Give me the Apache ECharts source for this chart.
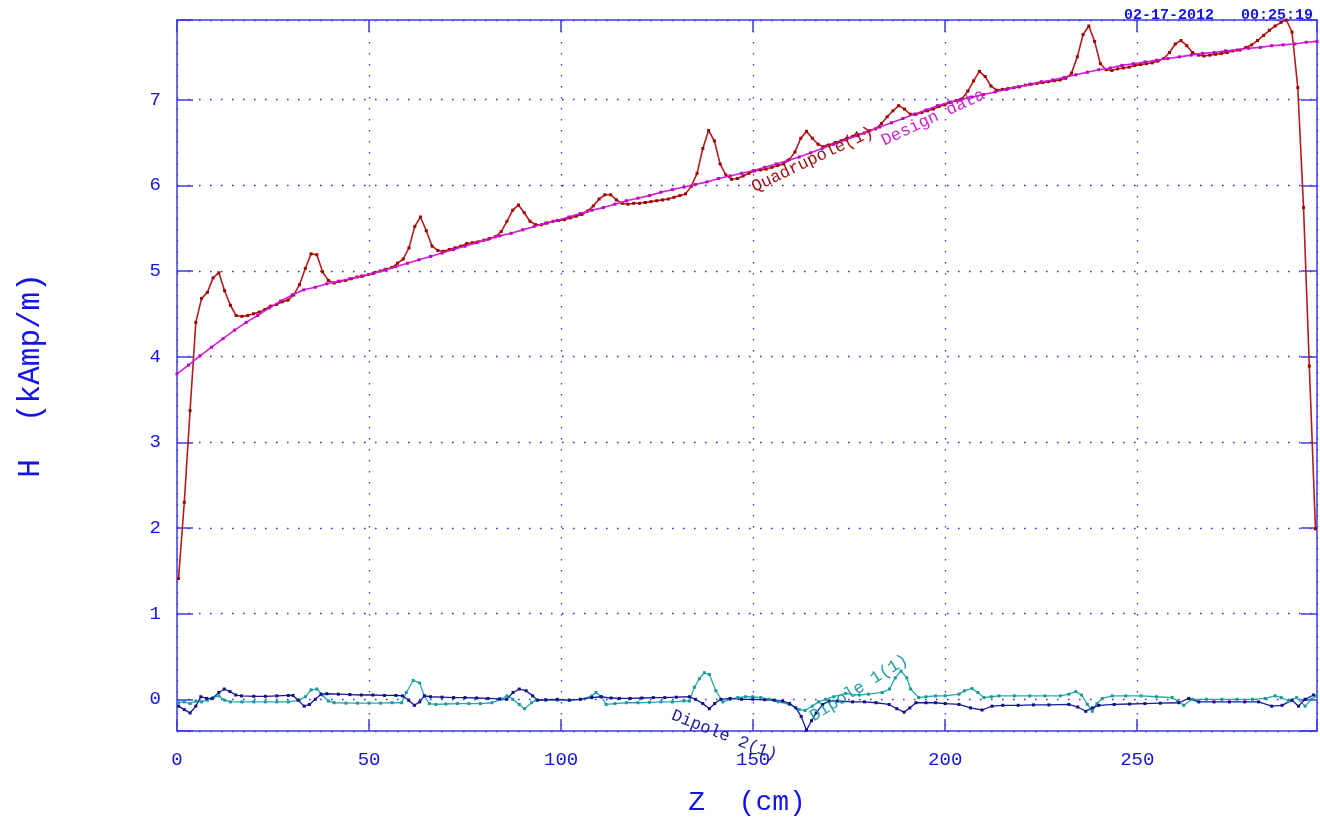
<!DOCTYPE html>
<html><head><meta charset="utf-8">
<script src="https://cdn.jsdelivr.net/npm/echarts@6/dist/echarts.min.js"></script>
<style>html,body{margin:0;padding:0;background:#fff}#c{width:1320px;height:824px}</style>
</head><body><div id="c"></div>
<script>
// ---- data (Z in cm, H in kAmp/m) ----
const quadZ = [0.4,1.9,3.4,4.9,6.4,7.9,9.4,10.9,12.4,13.9,15.4,16.9,18.4,19.9,21.4,22.9,24.4,25.9,27.4,28.9,30.4,31.9,33.4,34.9,36.4,37.9,39.4,40.9,42.4,43.9,45.4,46.9,48.4,49.9,51.4,52.9,54.4,55.9,57.4,58.9,60.4,61.9,63.4,64.9,66.4,67.9,69.4,70.9,72.4,73.9,75.4,76.9,78.4,79.9,81.4,82.9,84.4,85.9,87.4,88.9,90.4,91.9,93.4,94.9,96.4,97.9,99.4,100.9,102.4,103.9,105.4,106.9,108.4,109.9,111.4,112.9,114.4,115.9,117.4,118.9,120.4,121.9,123.4,124.9,126.4,127.9,129.4,130.9,132.4,133.9,135.4,136.9,138.4,139.9,141.4,142.9,144.4,145.9,147.4,148.9,150.4,151.9,153.4,154.9,156.4,157.9,159.4,160.9,162.4,163.9,165.4,166.9,168.4,169.9,171.4,172.9,174.4,175.9,177.4,178.9,180.4,181.9,183.4,184.9,186.4,187.9,189.4,190.9,192.4,193.9,195.4,196.9,198.4,199.9,201.4,202.9,204.4,205.9,207.4,208.9,210.4,211.9,213.4,214.9,216.4,217.9,219.4,220.9,222.4,223.9,225.4,226.9,228.4,229.9,231.4,232.9,234.4,235.9,237.4,238.9,240.4,241.9,243.4,244.9,246.4,247.9,249.4,250.9,252.4,253.9,255.4,256.9,258.4,259.9,261.4,262.9,264.4,265.9,267.4,268.9,270.4,271.9,273.4,274.9,276.8,278.3,279.8,281.3,282.9,284.4,285.9,287.4,288.8,290.3,291.8,293.3,294.8,296.4];
const quadH = [1.41,2.30,3.37,4.40,4.68,4.75,4.92,4.98,4.77,4.60,4.48,4.47,4.48,4.50,4.52,4.55,4.59,4.61,4.64,4.66,4.72,4.84,5.03,5.20,5.19,4.99,4.89,4.86,4.88,4.89,4.91,4.93,4.94,4.96,4.98,5.00,5.02,5.04,5.09,5.14,5.27,5.52,5.63,5.47,5.29,5.24,5.23,5.25,5.27,5.29,5.32,5.33,5.34,5.36,5.38,5.40,5.46,5.58,5.71,5.77,5.68,5.58,5.54,5.54,5.56,5.58,5.59,5.60,5.62,5.64,5.66,5.70,5.76,5.84,5.89,5.89,5.83,5.79,5.78,5.79,5.79,5.80,5.81,5.82,5.83,5.84,5.86,5.88,5.90,5.99,6.14,6.43,6.64,6.52,6.25,6.12,6.07,6.08,6.11,6.14,6.17,6.18,6.19,6.21,6.23,6.25,6.30,6.39,6.55,6.63,6.55,6.48,6.45,6.47,6.50,6.52,6.55,6.57,6.59,6.61,6.64,6.66,6.72,6.80,6.87,6.93,6.89,6.83,6.83,6.85,6.87,6.89,6.92,6.94,6.97,6.99,7.01,7.10,7.22,7.33,7.27,7.16,7.11,7.12,7.13,7.14,7.15,7.17,7.18,7.19,7.20,7.21,7.22,7.23,7.25,7.31,7.50,7.76,7.86,7.68,7.42,7.35,7.34,7.36,7.37,7.38,7.40,7.41,7.42,7.43,7.45,7.48,7.55,7.65,7.69,7.63,7.55,7.52,7.51,7.52,7.53,7.54,7.55,7.57,7.58,7.61,7.64,7.69,7.75,7.81,7.86,7.90,7.93,7.79,7.14,5.74,3.89,1.99];

const designZ = [0,3,6,9,12,15,18,21,24,27,30,33,36,39,42,45,48,51,54,57,60,63,66,69,72,75,78,81,84,87,90,93,96,99,102,105,108,111,114,117,120,123,126,129,132,135,138,141,144,147,150,153,156,159,162,165,168,171,174,177,180,183,186,189,192,195,198,201,204,207,210,213,216,219,222,225,228,231,234,237,240,243,246,249,252,255,258,261,264,267,270,273,276,279,282,285,288,291,294,296.8];
const designH = [3.80,3.90,4.01,4.11,4.21,4.31,4.40,4.48,4.57,4.65,4.72,4.78,4.81,4.85,4.88,4.91,4.94,4.97,5.01,5.05,5.09,5.13,5.17,5.21,5.25,5.29,5.33,5.37,5.41,5.44,5.48,5.52,5.56,5.59,5.63,5.67,5.71,5.74,5.78,5.82,5.85,5.88,5.92,5.95,5.98,6.01,6.04,6.08,6.11,6.14,6.17,6.21,6.25,6.29,6.33,6.38,6.43,6.48,6.53,6.58,6.63,6.68,6.73,6.78,6.83,6.88,6.93,6.97,7.00,7.03,7.06,7.09,7.12,7.15,7.18,7.21,7.23,7.26,7.29,7.32,7.35,7.37,7.40,7.42,7.44,7.46,7.48,7.50,7.52,7.54,7.55,7.57,7.58,7.60,7.61,7.63,7.64,7.65,7.67,7.68];

const dip1Z = [0.4,1.9,3.4,4.9,6.4,7.9,9.4,10.9,12.4,13.9,16.9,20,23,26,29,31.9,33.4,34.9,36.4,37.9,39.4,40.9,44,47,50,53,56,58.5,59.7,61.5,63.2,64.4,65.7,67.4,70,73,76,79,82,84.4,85.9,87.4,89.1,90.5,92.3,93.5,96,99,102,105,108,109.1,110.5,111.7,114,117,120,123,126,129,132,133.4,134.7,136,137.3,138.6,140.3,142.1,144,146,148,149.9,152,154.2,156.5,159.4,162,163.5,165.4,167,168.9,171,174.1,177.6,180,183.6,185.5,187,188.5,190,191,193.1,195,197.5,200,203.6,205,207,208.5,210.1,212,214,218,222,226,230,232.2,234,235.5,237,238.3,239.5,240.9,243.5,247,251,255,259.1,260.5,262.1,264.3,268,272,276,280,283.3,285.9,287.5,289.4,291.5,293.7,295.4,296.7];
const dip1H = [-0.04,-0.03,-0.05,-0.02,-0.03,-0.01,0.02,0.04,-0.01,-0.03,-0.03,-0.03,-0.03,-0.03,-0.03,-0.01,0.03,0.11,0.12,0.05,-0.02,-0.04,-0.045,-0.045,-0.045,-0.045,-0.04,-0.04,0.08,0.22,0.19,0.04,-0.05,-0.06,-0.055,-0.05,-0.05,-0.05,-0.04,0.00,0.04,0.00,-0.06,-0.11,-0.04,-0.01,-0.01,-0.01,-0.01,0.00,0.04,0.08,0.03,-0.06,-0.05,-0.04,-0.04,-0.035,-0.03,-0.03,-0.02,-0.02,0.14,0.24,0.31,0.29,0.10,-0.03,0.00,0.02,0.03,0.03,0.02,0.00,-0.03,-0.06,-0.12,-0.13,-0.08,-0.03,0.00,0.03,0.07,0.05,0.06,0.08,0.12,0.25,0.33,0.25,0.12,0.02,0.03,0.04,0.04,0.06,0.10,0.125,0.08,0.02,0.03,0.04,0.04,0.04,0.04,0.04,0.06,0.09,0.05,-0.06,-0.14,-0.05,0.01,0.04,0.04,0.04,0.03,0.02,-0.02,-0.07,0.00,0.00,0.00,0.00,0.00,0.01,0.04,0.02,-0.02,0.02,-0.08,0.00,0.04];

const dip2Z = [0.4,1.9,3.4,4.9,6.2,7.7,9.2,10.9,12.3,13.8,15.3,16.8,20,23,26,29,30.2,31.5,33.1,34.5,36,37.5,39,42,45,48,51,54,57,58.7,60.3,61.8,63.2,64.4,66,69,72,75,78,81,84,85.8,87.5,89.1,90.9,92.6,93.9,96,99,102.2,105,108,110.4,113,115.2,118,121,124,127,130,133.4,135,136.9,138.6,140,141.6,144,147,149.9,153,155.5,157.7,159.5,161.1,162.5,163.9,165.2,166.4,168.1,169.8,172,175.9,179,182,185.4,187.4,189.3,190.8,192.4,195,197.5,200,203.6,206.6,209.6,212.2,215,219,223,227,232.2,234.5,236.6,238.3,240,244,248,252,256,260.8,263.4,266,270,274,278,281.6,285,287.7,290.3,292,293.7,295.9];
const dip2H = [-0.08,-0.12,-0.16,-0.08,0.03,0.01,0.01,0.08,0.12,0.09,0.05,0.04,0.035,0.035,0.04,0.045,0.045,-0.01,-0.08,-0.06,0.00,0.06,0.065,0.06,0.055,0.05,0.05,0.045,0.045,0.04,-0.01,-0.07,-0.03,0.04,0.03,0.025,0.02,0.02,0.015,0.01,0.005,0.00,0.08,0.12,0.10,0.04,-0.01,-0.005,0.00,-0.01,0.00,0.02,0.03,0.015,0.01,0.01,0.015,0.02,0.02,0.025,0.03,0.00,-0.05,-0.11,-0.05,0.00,0.01,0.00,0.00,-0.005,-0.01,-0.02,-0.05,-0.10,-0.20,-0.36,-0.25,-0.16,-0.06,-0.02,-0.02,-0.03,-0.03,-0.04,-0.06,-0.11,-0.15,-0.10,-0.04,-0.04,-0.04,-0.05,-0.06,-0.10,-0.125,-0.08,-0.07,-0.07,-0.065,-0.065,-0.06,-0.09,-0.14,-0.10,-0.07,-0.06,-0.055,-0.05,-0.045,-0.04,0.01,-0.03,-0.03,-0.03,-0.03,-0.03,-0.08,-0.07,-0.01,-0.08,0.00,0.05];

const seriesNames = ['Quadrupole(1)', 'Design data', 'Dipole 1(1)', 'Dipole 2(1)'];
const xTickValues = [0, 50, 100, 150, 200, 250];
const yTickValues = [0, 1, 2, 3, 4, 5, 6, 7];
const timestamp = '02-17-2012   00:25:19';
const xTitle = 'Z  (cm)';
const yTitle = 'H  (kAmp/m)';

// ---- styling ----
const FONT = '"Liberation Mono", "DejaVu Sans Mono", monospace';
const AX = '#1414e6';
const FRAME = '#3b3be6';
const GRIDC = '#2f2ff5';
const pairs = (zs, hs) => zs.map((z, i) => [z, hs[i]]);

const chart = echarts.init(document.getElementById('c'), null, {renderer: 'canvas'});

const intLabel = (v, list) => list.indexOf(Math.round(v * 1000) / 1000) >= 0 ? String(Math.round(v)) : '';

const xBase = {
  type: 'value', min: 0, max: 296.8, interval: 50,
  axisLine: {show: true, onZero: false, lineStyle: {color: FRAME, width: 1.5}},
  axisTick: {show: true, inside: true, length: 12, lineStyle: {color: FRAME, width: 1.5}},
  splitLine: {show: false}
};
const yBase = {
  type: 'value', min: -0.37, max: 7.93, splitNumber: 8,
  axisLine: {show: true, onZero: false, lineStyle: {color: FRAME, width: 1.5}},
  axisTick: {show: true, inside: true, length: 16, lineStyle: {color: FRAME, width: 1.5}},
  splitLine: {show: false}
};
const gridLine = {show: true, lineStyle: {color: GRIDC, width: 1.3, type: [1.6, 9.4]}};

const option = {
  backgroundColor: '#ffffff',
  animation: false,
  title: {
    text: timestamp, right: 2, top: 3,
    textStyle: {fontFamily: FONT, fontSize: 15, fontWeight: 'bold', color: AX}
  },
  grid: {left: 177, right: 2, top: 20, bottom: 93, containLabel: false},
  xAxis: [
    Object.assign({}, xBase, {
      position: 'bottom',
      name: xTitle, nameLocation: 'middle', nameGap: 58,
      nameTextStyle: {fontFamily: FONT, fontSize: 28, color: AX},
      splitLine: gridLine,
      axisLabel: {show: true, margin: 19, fontFamily: FONT, fontSize: 19, color: AX,
        formatter: v => intLabel(v, xTickValues)}
    }),
    Object.assign({}, xBase, {position: 'top', axisLabel: {show: false}})
  ],
  yAxis: [
    Object.assign({}, yBase, {
      position: 'left',
      name: yTitle, nameLocation: 'middle', nameGap: 131, nameRotate: 90,
      nameTextStyle: {fontFamily: FONT, fontSize: 31, color: AX},
      splitLine: gridLine,
      axisLabel: {show: true, margin: 16, fontFamily: FONT, fontSize: 19, color: AX,
        formatter: v => intLabel(v, yTickValues)}
    }),
    Object.assign({}, yBase, {position: 'right', axisLabel: {show: false}})
  ],
  series: [
    {
      name: seriesNames[0], type: 'line', data: pairs(quadZ, quadH),
      symbol: 'rect', symbolSize: 3, showAllSymbol: true,
      lineStyle: {color: '#b41c1c', width: 1.6},
      itemStyle: {color: '#a00000'}, z: 3
    },
    {
      name: seriesNames[1], type: 'line', data: pairs(designZ, designH),
      symbol: 'rect', symbolSize: 3, showAllSymbol: true,
      lineStyle: {color: '#d020d0', width: 1.6},
      itemStyle: {color: '#c000c0'}, z: 4
    },
    {
      name: seriesNames[2], type: 'line', data: pairs(dip1Z, dip1H),
      symbol: 'rect', symbolSize: 3, showAllSymbol: true,
      lineStyle: {color: '#28aaaa', width: 1.3},
      itemStyle: {color: '#189a9a'}, z: 3
    },
    {
      name: seriesNames[3], type: 'line', data: pairs(dip2Z, dip2H),
      symbol: 'rect', symbolSize: 3, showAllSymbol: true,
      lineStyle: {color: '#1a1a9a', width: 1.3},
      itemStyle: {color: '#10108a'}, z: 3
    }
  ]
};
chart.setOption(option);

// curve labels anchored at data coordinates
const annot = [
  {text: seriesNames[0], at: [150.8, 5.88], deg: 25.3, color: '#a01010', va: 'bottom'},
  {text: 'Design data', at: [184.6, 6.42], deg: 25.2, color: '#d020d0', va: 'bottom'},
  {text: seriesNames[3], at: [129.7, -0.09], deg: -21.4, color: '#1a1a9a', va: 'top'},
  {text: seriesNames[2], at: [166.3, -0.30], deg: 31.8, color: '#20a0a0', va: 'bottom'}
];
const graphics = annot.map(a => {
  const p = chart.convertToPixel({xAxisIndex: 0, yAxisIndex: 0}, a.at);
  return {
    type: 'text', x: p[0], y: p[1], rotation: a.deg * Math.PI / 180, z: 10,
    style: {text: a.text, fill: a.color, font: '17px ' + FONT,
      textAlign: 'left', textVerticalAlign: a.va, align: 'left', verticalAlign: a.va}
  };
});
chart.setOption({graphic: graphics});
</script>
</body></html>
